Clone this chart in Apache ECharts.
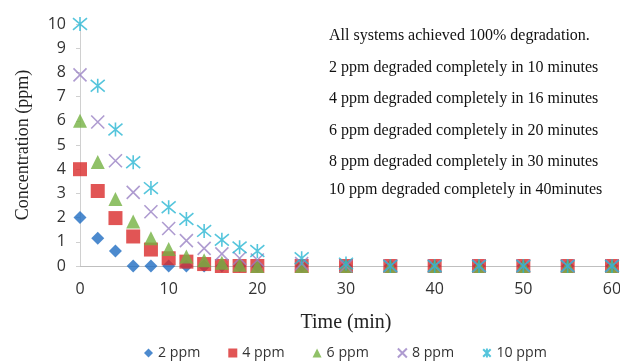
<!DOCTYPE html>
<html><head><meta charset="utf-8">
<script src="https://cdn.jsdelivr.net/npm/echarts@6/dist/echarts.min.js"></script>
<style>html,body{margin:0;padding:0;background:#fff}#c{width:620px;height:363px}</style>
</head><body><div id="c"></div>
<script>
const times = [0,2,4,6,8,10,12,14,16,18,20,25,30,35,40,45,50,55,60];
const seriesNames = ['2 ppm','4 ppm','6 ppm','8 ppm','10 ppm'];
const ppm2  = [2.0,1.15,0.62,0,0,0,0,0,0,0,0,0,0,0,0,0,0,0,0];
const ppm4  = [4.0,3.1,1.98,1.22,0.68,0.32,0.18,0.08,0,0,0,0,0,0,0,0,0,0,0];
const ppm6  = [6.0,4.3,2.77,1.84,1.15,0.7,0.39,0.24,0.13,0.05,0,0,0,0,0,0,0,0,0];
const ppm8  = [7.9,5.95,4.35,3.04,2.24,1.55,1.05,0.73,0.5,0.32,0.25,0.1,0,0,0,0,0,0,0];
const ppm10 = [10.0,7.45,5.64,4.29,3.22,2.43,1.94,1.45,1.08,0.77,0.62,0.32,0.1,0,0,0,0,0,0];
const yTicks = [0,1,2,3,4,5,6,7,8,9,10];
const xTicks = [0,10,20,30,40,50,60];
const notes = [
  'All systems achieved 100% degradation.',
  '2 ppm degraded completely in 10 minutes',
  '4 ppm degraded completely in 16 minutes',
  '6 ppm degraded completely in 20 minutes',
  '8 ppm degraded completely in 30 minutes',
  '10 ppm degraded completely in 40minutes'
];
const noteY = [36, 68, 99, 131, 162, 190];

const allData = [ppm2, ppm4, ppm6, ppm8, ppm10];
const colors = ['#1f6dc2','#d92b2b','#74b142','#9a82c4','#2ab6d3'];
const symbols = ['diamond','rect','triangle',
  'path://M0,0L10,10M10,0L0,10',
  'path://M0,0L10,10M10,0L0,10M5,-1L5,11'];
const sizes = [13,14,14,13,14];

const chart = echarts.init(document.getElementById('c'));
chart.setOption({
  animation:false,
  grid:{left:80,right:8,top:24,bottom:97,containLabel:false,outerBoundsMode:'none'},
  xAxis:{type:'value',min:0,max:60,interval:10,
    name:'Time (min)',nameLocation:'middle',nameGap:47,
    nameTextStyle:{fontFamily:'Liberation Serif',fontSize:20,color:'#222'},
    axisLine:{show:true,lineStyle:{color:'#bfbfbf'}},
    axisTick:{show:false},
    splitLine:{show:false},
    axisLabel:{fontFamily:'Open Sans',fontSize:16,color:'#333',margin:15,hideOverlap:false}},
  yAxis:{type:'value',min:0,max:10,interval:1,
    name:'Concentration (ppm)',nameLocation:'middle',nameGap:48,
    nameTextStyle:{fontFamily:'Liberation Serif',fontSize:18,color:'#222'},
    axisLine:{show:true,lineStyle:{color:'#d0d0d0'}},
    axisTick:{show:true,length:4,lineStyle:{color:'#d0d0d0'}},
    splitLine:{show:false},
    axisLabel:{fontFamily:'Open Sans',fontSize:16,color:'#333',margin:14}},
  legend:{top:341,left:139,itemGap:28,itemWidth:9,itemHeight:9,
    textStyle:{fontFamily:'Open Sans',fontSize:14.2,color:'#333'},
    data:seriesNames},
  graphic: notes.map((t,i)=>({type:'text',x:329,y:noteY[i],
    style:{text:t,font:'16px "Liberation Serif"',fill:'#111',verticalAlign:'middle'}})),
  series: allData.map((d,i)=>({
    name:seriesNames[i],type:'scatter',
    data:times.map((t,j)=>[t,d[j]]),
    symbol:symbols[i],symbolSize:sizes[i],
    itemStyle: i>=3 ? {color:colors[i],borderColor:colors[i],borderWidth:1.6} : {color:colors[i]}
  }))
});
</script></body></html>
